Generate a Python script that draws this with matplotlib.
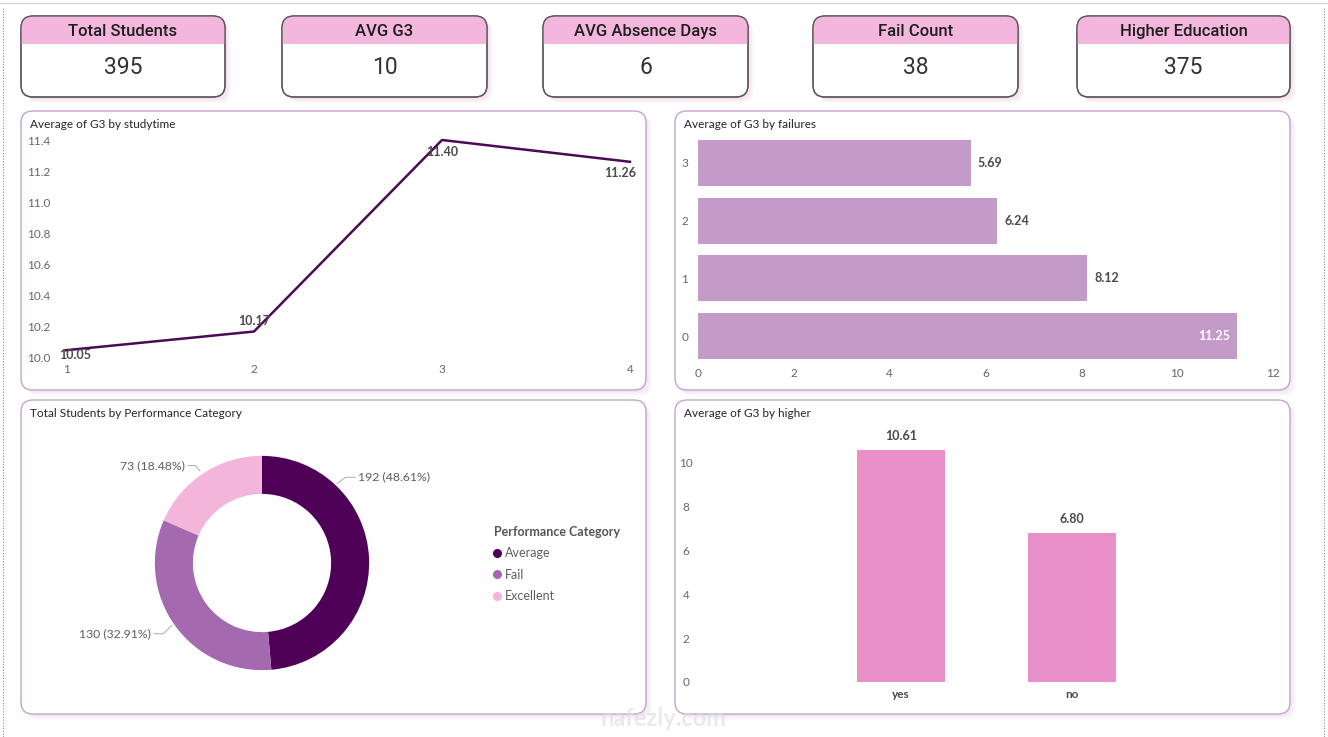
import numpy as np
import matplotlib
matplotlib.use("Agg")
import matplotlib.pyplot as plt
from matplotlib.patches import FancyBboxPatch, Rectangle
from matplotlib.lines import Line2D

W, H = 1328, 737

# ---- data ----
kpi_titles = ["Total Students", "AVG G3", "AVG Absence Days", "Fail Count", "Higher Education"]
kpi_values = ["395", "10", "6", "38", "375"]

studytime = [1, 2, 3, 4]
g3_by_studytime = [10.05, 10.17, 11.40, 11.26]

failures = [0, 1, 2, 3]
g3_by_failures = [11.25, 8.12, 6.24, 5.69]

perf_categories = ["Average", "Fail", "Excellent"]
perf_counts = [192, 130, 73]

higher = ["yes", "no"]
g3_by_higher = [10.61, 6.80]

# ---- style ----
plt.rcParams['font.family'] = ['Lato', 'DejaVu Sans']
KPI_FONT = ['Roboto', 'DejaVu Sans']
TXT = '#252423'
TICK = '#666666'
LBL = '#4a4a4a'
PINK_HEAD = '#F3B6DC'
PANEL_EDGE = '#C4A3D0'
LINE_COL = '#4B0A55'
FAIL_BAR = '#C49AC9'
HIGH_BAR = '#EA90C8'
DONUT_COLS = ['#4F0057', '#A469AE', '#F3B5D9']

fig = plt.figure(figsize=(W / 100, H / 100), dpi=100)
fig.patch.set_facecolor('white')

bg = fig.add_axes([0, 0, 1, 1], zorder=0)
bg.set_xlim(0, W)
bg.set_ylim(H, 0)
bg.axis('off')


def px_axes(x0, y0, x1, y1):
    ax = fig.add_axes([x0 / W, 1 - y1 / H, (x1 - x0) / W, (y1 - y0) / H], zorder=2)
    ax.patch.set_alpha(0)
    return ax


def shadow(x0, y0, x1, y1, r, col):
    for i, a in enumerate([0.45, 0.3, 0.18]):
        d = 2 + i * 2
        bg.add_patch(FancyBboxPatch((x0 + d, y0 + d), x1 - x0, y1 - y0,
                                    boxstyle=f"round,pad=0,rounding_size={r}",
                                    fc=col, ec='none', alpha=a))


def box(x0, y0, x1, y1, r, ec, lw):
    p = FancyBboxPatch((x0, y0), x1 - x0, y1 - y0,
                       boxstyle=f"round,pad=0,rounding_size={r}",
                       fc='white', ec=ec, lw=lw)
    bg.add_patch(p)
    return p


# page edges
bg.plot([0, W], [3, 3], color='#d0d0d0', lw=0.8)
bg.plot([3, 3], [8, H], color='#888888', lw=0.8, ls=(0, (1, 1.5)))
bg.plot([W - 4, W - 4], [8, H], color='#888888', lw=0.8, ls=(0, (1, 1.5)))

# ---- KPI cards ----
kpi_boxes = [(21, 16, 225, 97), (282, 16, 487, 97), (543, 16, 748, 97),
             (813, 16, 1018, 97), (1077, 16, 1290, 97)]
for (x0, y0, x1, y1), t, v in zip(kpi_boxes, kpi_titles, kpi_values):
    shadow(x0, y0, x1, y1, 12, '#F4D3EC')
    p = box(x0, y0, x1, y1, 12, '#555555', 0.9)
    head = Rectangle((x0, y0), x1 - x0, 28, fc=PINK_HEAD, ec='none')
    bg.add_patch(head)
    head.set_clip_path(p)
    bg.add_patch(FancyBboxPatch((x0, y0), x1 - x0, y1 - y0,
                                boxstyle="round,pad=0,rounding_size=12",
                                fc='none', ec='#555555', lw=0.9))
    cx = (x0 + x1) / 2
    bg.text(cx, y0 + 15, t, ha='center', va='center', fontsize=12,
            color='#1e1e1e', family=KPI_FONT, fontweight='medium')
    bg.text(cx, y0 + 51, v, ha='center', va='center', fontsize=16.5,
            color='#333333', family=KPI_FONT)

# ---- panels ----
panels = [(21, 111, 646, 390, "Average of G3 by studytime"),
          (675, 111, 1290, 390, "Average of G3 by failures"),
          (21, 400, 646, 714, "Total Students by Performance Category"),
          (675, 400, 1290, 714, "Average of G3 by higher")]
for x0, y0, x1, y1, title in panels:
    shadow(x0, y0, x1, y1, 12, '#EEDDF1')
    box(x0, y0, x1, y1, 12, PANEL_EDGE, 1.0)
    bg.text(x0 + 9, y0 + 13, title, ha='left', va='center', fontsize=8.5, color=TXT)


def clean(ax):
    for s in ax.spines.values():
        s.set_visible(False)
    ax.tick_params(length=0, labelsize=8.5, labelcolor=TICK)


# ---- line: G3 by studytime ----
ax1 = px_axes(66, 140, 630, 358)
ax1.plot(studytime, g3_by_studytime, color=LINE_COL, lw=1.8, clip_on=False)
ax1.set_xlim(1, 4)
ax1.set_ylim(10.0, 11.4)
ax1.set_xticks(studytime)
ax1.set_yticks(np.arange(10.0, 11.41, 0.2))
ax1.set_yticklabels([f"{t:.1f}" for t in np.arange(10.0, 11.41, 0.2)])
clean(ax1)
ax1.tick_params(axis='y', pad=11)
ax1.tick_params(axis='x', pad=4)
line_offsets = [(9, -5), (0, 11), (0, -12), (-10, -11)]
for x, y, off in zip(studytime, g3_by_studytime, line_offsets):
    ax1.annotate(f"{y:.2f}", (x, y), xytext=off, textcoords='offset pixels',
                 ha='center', va='center', fontsize=9, fontweight='bold',
                 color=LBL, annotation_clip=False)

# ---- barh: G3 by failures ----
ax2 = px_axes(698, 137, 1273, 362)
ax2.barh(failures, g3_by_failures, height=0.8, color=FAIL_BAR)
ax2.set_xlim(0, 12)
ax2.set_ylim(-0.45, 3.45)
ax2.set_xticks(range(0, 13, 2))
ax2.set_yticks(failures)
clean(ax2)
ax2.tick_params(axis='y', pad=7)
ax2.tick_params(axis='x', pad=4)
for y, v in zip(failures, g3_by_failures):
    if v > 10:
        ax2.text(v - 0.15, y, f"{v:.2f}", ha='right', va='center', fontsize=9,
                 fontweight='bold', color='white')
    else:
        ax2.text(v + 0.15, y, f"{v:.2f}", ha='left', va='center', fontsize=9,
                 fontweight='bold', color=LBL)

# ---- donut: students by performance category ----
ax3 = px_axes(112, 413, 412, 713)
ax3.pie(perf_counts, colors=DONUT_COLS, startangle=90, counterclock=False,
        radius=1, wedgeprops=dict(width=0.355, edgecolor='none'))
ax3.set_xlim(-1.4, 1.4)
ax3.set_ylim(-1.4, 1.4)
ax3.set_aspect('equal')
total = sum(perf_counts)
# leader lines: (edge point, elbow, text anchor, ha)
leaders = [((0.70, 0.74), (0.78, 0.80), (0.87, 0.80), 'left'),
           ((-0.84, -0.58), (-0.92, -0.66), (-1.01, -0.66), 'right'),
           ((-0.58, 0.86), (-0.62, 0.91), (-0.69, 0.91), 'right')]
for n, (p0, p1, pt, ha) in zip(perf_counts, leaders):
    ax3.plot([p0[0], p1[0], pt[0]], [p0[1], p1[1], pt[1]],
             color='#aaaaaa', lw=0.7, clip_on=False)
    ax3.text(pt[0] + (0.03 if ha == 'left' else -0.03), pt[1],
             f"{n} ({n / total * 100:.2f}%)", ha=ha, va='center',
             fontsize=8.8, color='#605E5C', clip_on=False)

handles = [Line2D([], [], marker='o', ls='none', color=c, markersize=5.5) for c in DONUT_COLS]
leg = fig.legend(handles, perf_categories, title="Performance Category",
                 loc='upper left', bbox_to_anchor=(489 / W, 1 - 521 / H),
                 frameon=False, fontsize=9, title_fontsize=9,
                 handlelength=0.5, handletextpad=0.35, labelspacing=0.75,
                 alignment='left', borderaxespad=0)
leg.get_title().set_fontweight('bold')
leg.get_title().set_color('#555555')
for t in leg.get_texts():
    t.set_color('#605E5C')

# ---- bar: G3 by higher ----
ax4 = px_axes(700, 430, 1280, 682)
xpos = np.arange(len(higher))
ax4.bar(xpos, g3_by_higher, width=0.515, color=HIGH_BAR)
ax4.set_xlim(-1.175, 2.216)
ax4.set_ylim(0, 11.5)
ax4.set_xticks(xpos)
ax4.set_xticklabels(higher, fontweight='bold')
ax4.set_yticks(range(0, 11, 2))
clean(ax4)
ax4.tick_params(axis='x', labelcolor=LBL, pad=5)
for t in ax4.get_yticklabels():
    t.set_horizontalalignment('center')
ax4.tick_params(axis='y', pad=10)
for x, v in zip(xpos, g3_by_higher):
    ax4.text(x, v + 0.35, f"{v:.2f}", ha='center', va='bottom', fontsize=9,
             fontweight='bold', color=LBL)

# faint watermark
bg.text(663, 718, "nafezly.com", ha='center', va='center', fontsize=17,
        fontweight='bold', color='#dddddd', alpha=0.6, zorder=5)

fig.savefig("out.png", dpi=100, facecolor='white')
